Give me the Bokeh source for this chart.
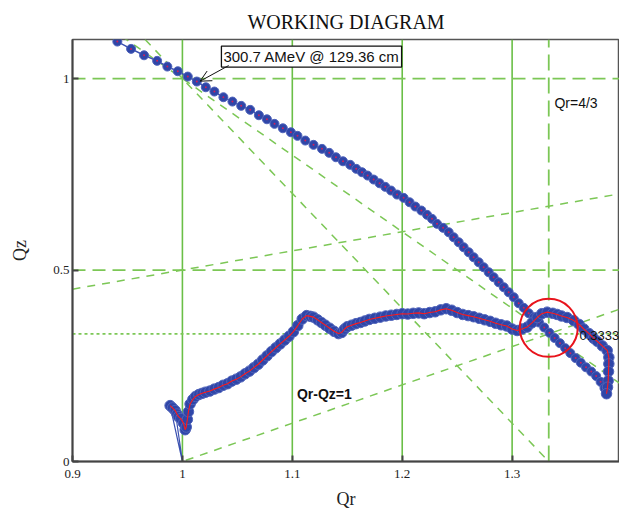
from bokeh.plotting import figure
from bokeh.models import Label, Arrow, OpenHead, Range1d, FixedTicker, NumeralTickFormatter
from bokeh.embed import file_html
from bokeh.resources import INLINE

# ---------------- data ----------------
# upper branch of the working line (Qr, Qz)
upper_qr = [0.9408, 0.9533, 0.9651, 0.9770, 0.9863, 0.9958, 1.0049, 1.0131, 1.0213, 1.0291,
            1.0373, 1.0455, 1.0535, 1.0617, 1.0696, 1.0769, 1.0838, 1.0914, 1.0987, 1.1047,
            1.1118, 1.1193, 1.1270, 1.1336, 1.1397, 1.1461, 1.1527, 1.1582, 1.1634, 1.1685,
            1.1740, 1.1794, 1.1846, 1.1898, 1.1953, 1.2013, 1.2067, 1.2119, 1.2174, 1.2226,
            1.2271, 1.2317, 1.2372, 1.2423, 1.2468, 1.2514, 1.2559, 1.2605, 1.2650, 1.2696,
            1.2741, 1.2787, 1.2832, 1.2878, 1.2924, 1.2969, 1.3015, 1.3060, 1.3106, 1.3151,
            1.3197, 1.3245, 1.3292, 1.3340, 1.3387, 1.3435, 1.3483, 1.3530, 1.3578, 1.3625,
            1.3672, 1.3720, 1.3765, 1.3805, 1.3840, 1.3858]
upper_qz = [1.0966, 1.0775, 1.0608, 1.0462, 1.0313, 1.0191, 1.0052, 0.9922, 0.9773, 0.9661,
            0.9512, 0.9399, 0.9287, 0.9183, 0.9042, 0.8937, 0.8817, 0.8702, 0.8598, 0.8504,
            0.8381, 0.8269, 0.8164, 0.8060, 0.7945, 0.7840, 0.7747, 0.7642, 0.7554, 0.7467,
            0.7363, 0.7266, 0.7172, 0.7076, 0.6971, 0.6885, 0.6770, 0.6658, 0.6554, 0.6441,
            0.6337, 0.6206, 0.6102, 0.5987, 0.5856, 0.5726, 0.5595, 0.5465, 0.5334, 0.5204,
            0.5073, 0.4943, 0.4812, 0.4681, 0.4551, 0.4420, 0.4290, 0.4133, 0.4013, 0.3872,
            0.3768, 0.3630, 0.3500, 0.3360, 0.3225, 0.3090, 0.2960, 0.2830, 0.2700, 0.2580,
            0.2460, 0.2350, 0.2230, 0.2080, 0.1920, 0.1780]

# lower branch of the working line (Qr, Qz)
lower_qr = [0.9888, 0.9910, 0.9934, 0.9950, 0.9964, 0.9985, 1.0010, 1.0025, 1.0035, 1.0045,
            1.0055, 1.0070, 1.0095, 1.0120, 1.0150, 1.0180, 1.0210, 1.0250, 1.0290, 1.0330,
            1.0370, 1.0410, 1.0450, 1.0490, 1.0530, 1.0570, 1.0610, 1.0650, 1.0690, 1.0730,
            1.0770, 1.0810, 1.0850, 1.0890, 1.0930, 1.0970, 1.1010, 1.1050, 1.1090, 1.1130,
            1.1165, 1.1193, 1.1230, 1.1265, 1.1300, 1.1340, 1.1380, 1.1420, 1.1450, 1.1475,
            1.1500, 1.1540, 1.1580, 1.1620, 1.1660, 1.1700, 1.1750, 1.1800, 1.1850, 1.1900,
            1.1950, 1.2000, 1.2050, 1.2100, 1.2150, 1.2200, 1.2250, 1.2300, 1.2350, 1.2400,
            1.2450, 1.2500, 1.2550, 1.2600, 1.2650, 1.2700, 1.2750, 1.2800, 1.2850, 1.2900,
            1.2950, 1.3000, 1.3046, 1.3090, 1.3137, 1.3180, 1.3228, 1.3270, 1.3319, 1.3370,
            1.3410, 1.3450, 1.3500, 1.3561, 1.3610, 1.3652, 1.3700, 1.3740, 1.3774, 1.3820,
            1.3865, 1.3880, 1.3880, 1.3877, 1.3874, 1.3868, 1.3859]
lower_qz = [0.146, 0.140, 0.133, 0.124, 0.117, 0.112, 0.100, 0.083, 0.090, 0.110,
            0.130, 0.150, 0.162, 0.170, 0.175, 0.178, 0.181, 0.184, 0.189, 0.193,
            0.199, 0.203, 0.210, 0.215, 0.221, 0.229, 0.236, 0.245, 0.254, 0.265,
            0.276, 0.287, 0.297, 0.307, 0.317, 0.327, 0.339, 0.355, 0.372, 0.381,
            0.379, 0.377, 0.370, 0.363, 0.356, 0.348, 0.340, 0.334, 0.337, 0.346,
            0.352, 0.356, 0.360, 0.363, 0.367, 0.371, 0.374, 0.377, 0.380, 0.382,
            0.384, 0.386, 0.385, 0.387, 0.388, 0.386, 0.389, 0.391, 0.396, 0.399,
            0.395, 0.389, 0.384, 0.381, 0.378, 0.374, 0.370, 0.366, 0.361, 0.357,
            0.354, 0.346, 0.342, 0.346, 0.351, 0.362, 0.376, 0.386, 0.390, 0.387,
            0.384, 0.380, 0.376, 0.368, 0.358, 0.346, 0.334, 0.322, 0.314, 0.302,
            0.290, 0.272, 0.255, 0.235, 0.211, 0.194, 0.177]

# thin starting segments down to (1, 0)
start_qr = [0.9934, 1.0, 0.9888]
start_qz = [0.133, 0.0, 0.146]

# grid / resonance lines
grid_qr = [1.0, 1.1, 1.2, 1.3]          # solid verticals
grid_qz = [0.5, 1.0]                      # dashed horizontals
third_qr = [4.0 / 3.0]                    # Qr = 4/3
third_qz = [1.0 / 3.0]                    # Qz = 1/3
# resonance lines a*Qr + b*Qz = c
res_a = [1, 1, 2, 3]
res_b = [-2, -1, 1, 1]
res_c = [0, 1, 3, 4]

x_ticks = [0.9, 1.0, 1.1, 1.2, 1.3]
y_ticks = [0.0, 0.5, 1.0]

marked_qr = [4.0 / 3.0]
marked_qz = [0.349]
annot_text = "300.7 AMeV @ 129.36 cm"
annot_qr = 1.0131
annot_qz = 0.9922

X_MIN, X_MAX = 0.9, 1.3977
Y_MIN, Y_MAX = 0.0, 1.102

# ---------------- figure ----------------
p = figure(width=619, height=515, output_backend="svg", toolbar_location=None,
           x_range=Range1d(X_MIN, X_MAX), y_range=Range1d(Y_MIN, Y_MAX),
           min_border_left=72, min_border_right=0, min_border_top=39, min_border_bottom=54)
p.background_fill_color = "white"
p.border_fill_color = "white"
p.outline_line_color = "#555555"
p.outline_line_width = 1.5
p.xgrid.visible = False
p.ygrid.visible = False

p.title.text = "WORKING DIAGRAM"
p.title.align = "center"
p.title.text_font = "Liberation Serif"
p.title.text_font_size = "20px"
p.title.text_font_style = "normal"
p.title.text_color = "#111111"
p.title.standoff = 14

for ax, lbl, ticks in ((p.xaxis, "Qr", x_ticks), (p.yaxis, "Qz", y_ticks)):
    ax.ticker = FixedTicker(ticks=ticks)
    ax.formatter = NumeralTickFormatter(format="0.[0]")
    ax.axis_label = lbl
    ax.axis_label_text_font = "Liberation Serif"
    ax.axis_label_text_font_size = "18px"
    ax.axis_label_text_font_style = "normal"
    ax.axis_label_text_color = "#222222"
    ax.major_label_text_font = "Liberation Serif"
    ax.major_label_text_font_size = "13px"
    ax.major_label_text_color = "#222222"
    ax.axis_line_color = "#444444"
    ax.axis_line_width = 2
    ax.major_tick_in = 6
    ax.major_tick_out = 0
    ax.major_tick_line_color = "#444444"
    ax.major_tick_line_width = 2
    ax.minor_tick_line_color = None
p.xaxis.major_label_standoff = 8
p.xaxis.axis_label_standoff = 8
p.yaxis.major_label_standoff = 3
p.yaxis.axis_label_standoff = 20

SOLID_GREEN = "#6abf47"
DASH_GREEN = "#7cc756"

# solid verticals
p.segment(x0=grid_qr, y0=[Y_MIN] * len(grid_qr), x1=grid_qr, y1=[Y_MAX] * len(grid_qr),
          line_color=SOLID_GREEN, line_width=1.6)
# dashed horizontals
p.segment(x0=[X_MIN] * len(grid_qz), y0=grid_qz, x1=[X_MAX] * len(grid_qz), y1=grid_qz,
          line_color=DASH_GREEN, line_width=1.8, line_dash="13 7")
# Qr = 4/3
p.segment(x0=third_qr, y0=[Y_MIN], x1=third_qr, y1=[Y_MAX],
          line_color=DASH_GREEN, line_width=1.8, line_dash="16 7")
# Qz = 1/3 dotted
p.segment(x0=[X_MIN], y0=third_qz, x1=[X_MAX], y1=third_qz,
          line_color=DASH_GREEN, line_width=1.6, line_dash="3 3")
# resonance lines
rx0, ry0, rx1, ry1 = [], [], [], []
for a, b, c in zip(res_a, res_b, res_c):
    rx0.append(X_MIN); ry0.append((c - a * X_MIN) / b)
    rx1.append(X_MAX); ry1.append((c - a * X_MAX) / b)
p.segment(x0=rx0, y0=ry0, x1=rx1, y1=ry1, line_color=DASH_GREEN, line_width=1.5, line_dash="8 7")

BLUE = "#2f46a8"
BLUE_EDGE = "#5064bb"

# starting thin segments
p.line(start_qr, start_qz, line_color="#3a50b0", line_width=1.2)

# upper branch
p.line(upper_qr, upper_qz, line_color="#3a50b0", line_width=1.5)
p.scatter(upper_qr, upper_qz, marker="circle", size=9, fill_color=BLUE,
          line_color=BLUE_EDGE, line_width=1)
p.scatter(upper_qr, upper_qz, marker="circle", size=2, fill_color="#d0205a", line_color=None)

# lower branch
p.scatter(lower_qr, lower_qz, marker="circle", size=10.5, fill_color=BLUE,
          line_color=BLUE_EDGE, line_width=1)
p.line(lower_qr, lower_qz, line_color="#ff1a1a", line_width=1.1)

# red circle around the 4/3 crossing
p.scatter(marked_qr, marked_qz, marker="circle", size=58, fill_color=None,
          line_color="#e8141c", line_width=2)

# text labels
p.add_layout(Label(x=1.3385, y=0.935, text="Qr=4/3", text_font="Liberation Sans",
                   text_font_size="14px", text_color="#111111", text_baseline="middle"))
p.add_layout(Label(x=1.3612, y=0.329, text="0.3333", text_font="Liberation Sans",
                   text_font_size="13px", text_color="#111111", text_baseline="middle"))
p.add_layout(Label(x=1.1042, y=0.175, text="Qr-Qz=1", text_font="Liberation Sans",
                   text_font_size="14px", text_font_style="bold", text_color="#111111",
                   text_baseline="middle"))

# annotation box + arrow
p.add_layout(Label(x=1.0355, y=1.0574, text=annot_text, text_font="Liberation Sans",
                   text_font_size="15px", text_color="#111111", text_baseline="middle",
                   border_line_color="#111111", border_line_width=1.3,
                   background_fill_color="white", padding=2))
p.add_layout(Arrow(end=OpenHead(size=11, line_width=1, line_color="#111111"),
                   x_start=1.0421, y_start=1.034, x_end=annot_qr + 0.003, y_end=annot_qz + 0.001,
                   line_color="#111111", line_width=1))

open("out.html", "w").write(file_html(p, INLINE))
